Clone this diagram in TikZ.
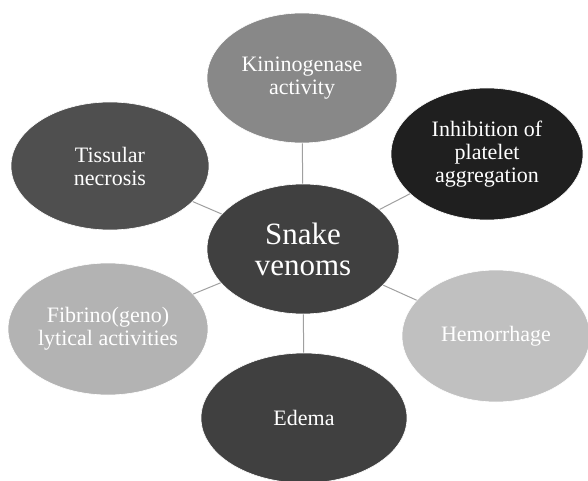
\documentclass[tikz,border=0pt]{standalone}
\usepackage{fontspec}
\setmainfont{Liberation Serif}
\usetikzlibrary{shapes.geometric}
\definecolor{cCenter}{HTML}{404040}
\definecolor{cKin}{HTML}{888888}
\definecolor{cInh}{HTML}{1F1F1F}
\definecolor{cHem}{HTML}{C0C0C0}
\definecolor{cEde}{HTML}{404040}
\definecolor{cFib}{HTML}{B3B3B3}
\definecolor{cTis}{HTML}{4F4F4F}
\definecolor{cLine}{HTML}{A0A0A0}
\tikzset{
  bubble/.style={ellipse, draw=white, line width=0.6pt, inner sep=0pt, text=white,
    align=center, font=\fontsize{22}{23}\selectfont},
  link/.style={draw=cLine, line width=1pt}
}
\begin{document}
\begin{tikzpicture}[x=1pt,y=-1pt]
\useasboundingbox (0,0) rectangle (588,481);
\node[bubble, fill=cCenter, minimum width=192pt, minimum height=130pt,
  font=\fontsize{31}{31}\selectfont] (c) at (303,249) {Snake\\venoms};
\node[bubble, fill=cKin, minimum width=190pt, minimum height=130pt] (kin) at (302,78) {Kininogenase\\activity};
\node[bubble, fill=cInh, minimum width=192pt, minimum height=132pt] (inh) at (487,154) {Inhibition of\\platelet\\aggregation};
\node[bubble, fill=cHem, minimum width=188pt, minimum height=132pt] (hem) at (496,336) {Hemorrhage};
\node[bubble, fill=cEde, minimum width=206pt, minimum height=130pt] (ede) at (304,418) {Edema};
\node[bubble, fill=cFib, minimum width=200pt, minimum height=132pt] (fib) at (108,329) {Fibrino(geno)\\lytical activities};
\node[bubble, fill=cTis, minimum width=198pt, minimum height=128pt] (tis) at (110,166) {Tissular\\necrosis};
\foreach \n in {kin,inh,hem,ede,fib,tis}{
  \draw[link] (c) -- (\n);
}
\end{tikzpicture}
\end{document}
